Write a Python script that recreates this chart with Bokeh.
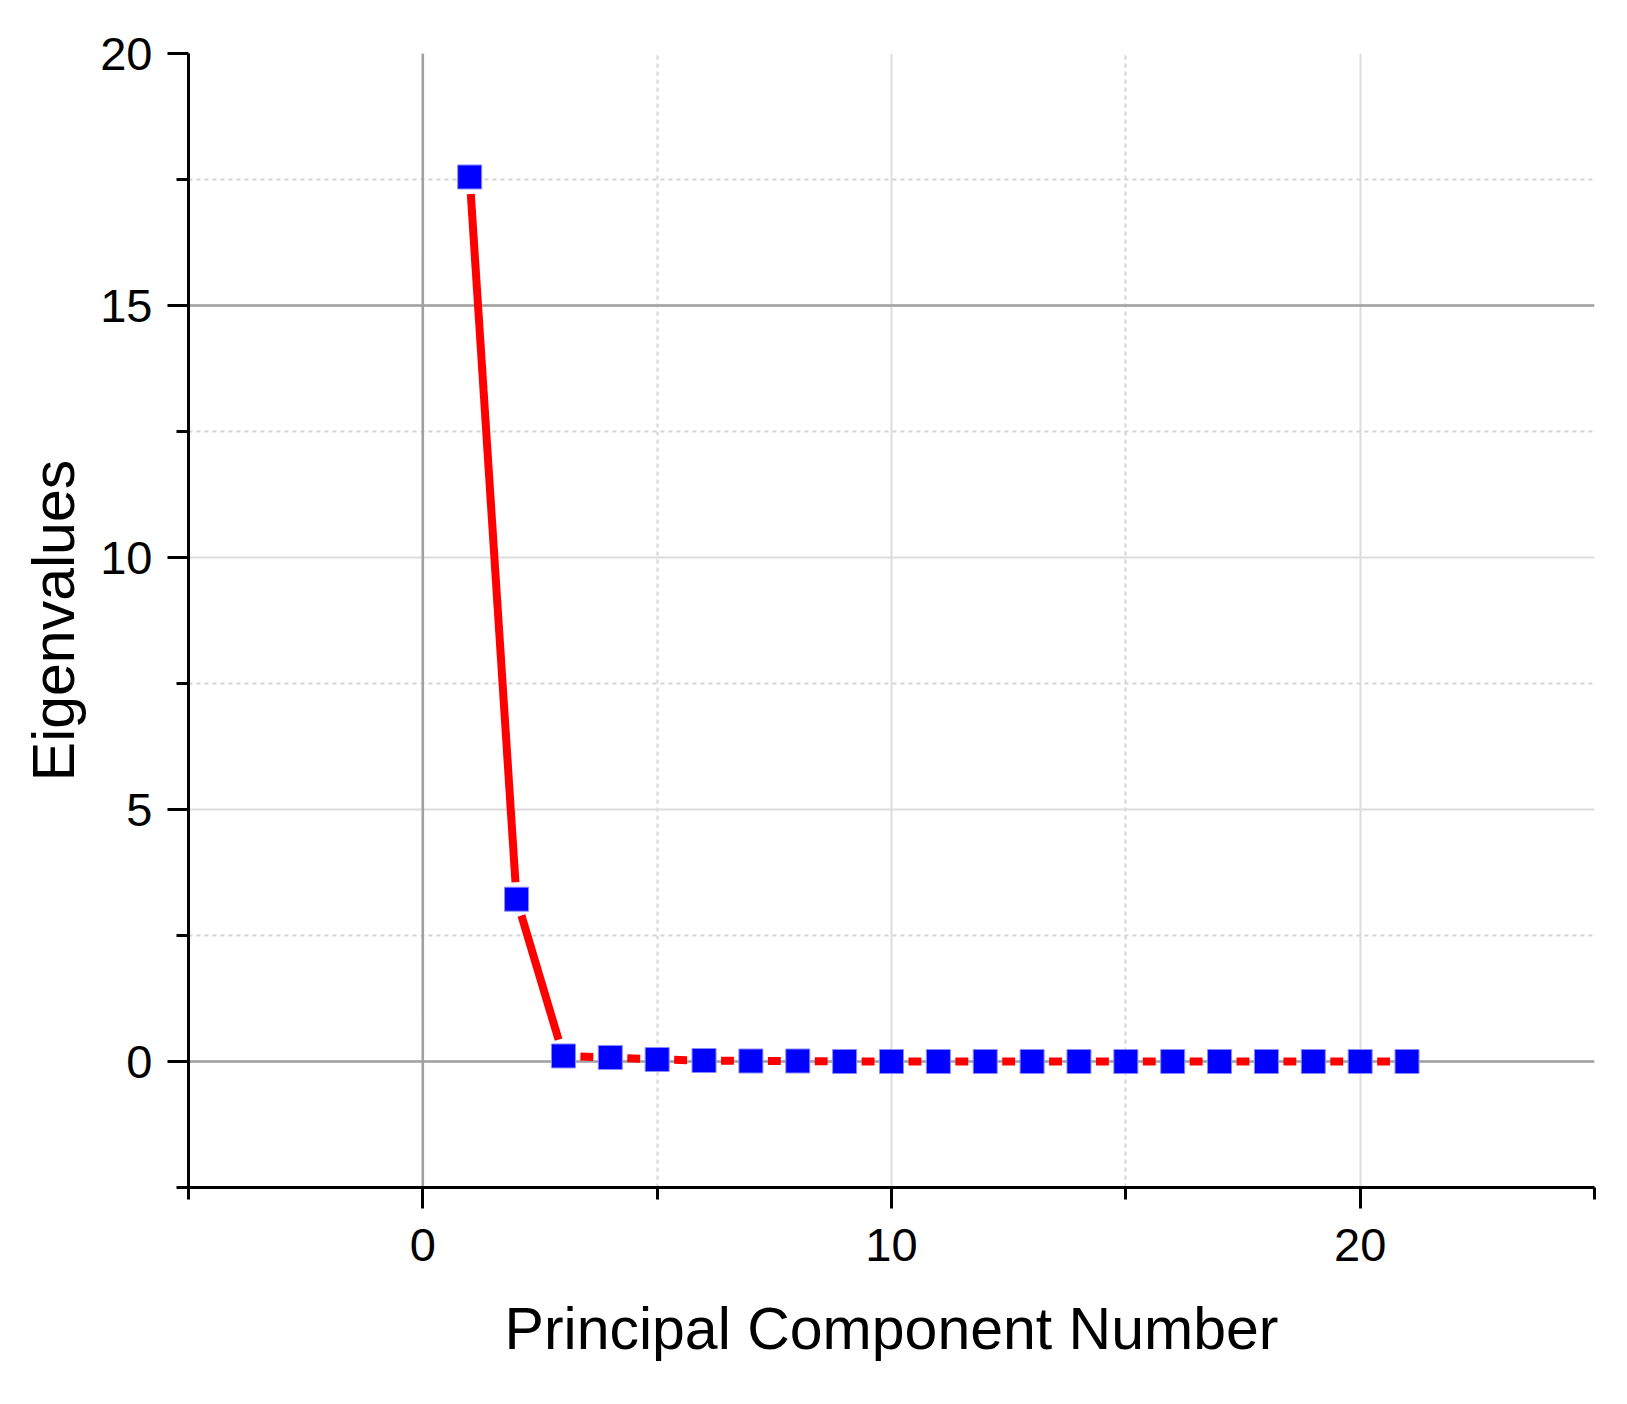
import numpy as np
from bokeh.plotting import figure
from bokeh.models import FixedTicker, Span, Range1d, ColumnDataSource
from bokeh.embed import file_html
from bokeh.resources import INLINE

# ---- data ----
components = list(range(1, 22))
eigenvalues = [17.55, 3.22, 0.11, 0.08, 0.04, 0.02, 0.01, 0.01, 0.0, 0.0, 0.0,
               0.0, 0.0, 0.0, 0.0, 0.0, 0.0, 0.0, 0.0, 0.0, 0.0]
x_major = [0, 10, 20]
x_minor = [-5, 5, 15, 25]
y_major = [0, 5, 10, 15, 20]
y_minor = [-2.5, 2.5, 7.5, 12.5, 17.5]
x_title = "Principal Component Number"
y_title = "Eigenvalues"

X0, X1 = -5, 25
Y0, Y1 = -2.5, 20
W, H = 1611, 1388
BL, BR, BT, BB = 188, 17, 53, 201
FW, FH = W - BL - BR, H - BT - BB
FONT = "Liberation Sans"

p = figure(width=W, height=H, output_backend="svg", toolbar_location=None,
           x_range=Range1d(X0, X1), y_range=Range1d(Y0, Y1),
           min_border_left=BL, min_border_right=BR, min_border_top=BT,
           min_border_bottom=BB)
p.outline_line_color = None
p.background_fill_color = "white"
p.border_fill_color = "white"

# grids
p.xaxis.ticker = FixedTicker(ticks=x_major, minor_ticks=x_minor)
p.yaxis.ticker = FixedTicker(ticks=y_major, minor_ticks=y_minor)
for g in (p.xgrid[0], p.ygrid[0]):
    g.grid_line_color = "#dcdcdc"
    g.grid_line_width = 2
    g.minor_grid_line_color = "#d4d4d4"
    g.minor_grid_line_width = 2
    g.minor_grid_line_dash = "4 4"

# darker reference lines (drawn beneath the data)
for loc, dim in ((0, "height"), (0, "width"), (15, "width")):
    p.add_layout(Span(location=loc, dimension=dim, line_color="#a0a0a0",
                      line_width=2.5, level="underlay"))

# axes styling
for ax in (p.xaxis[0], p.yaxis[0]):
    ax.axis_line_width = 3
    ax.axis_line_color = "black"
    ax.major_tick_line_width = 3
    ax.minor_tick_line_width = 3
    ax.major_tick_line_color = "black"
    ax.minor_tick_line_color = "black"
    ax.major_tick_out = 21
    ax.major_tick_in = 0
    ax.minor_tick_out = 12
    ax.minor_tick_in = 0
    ax.major_label_text_font = FONT
    ax.major_label_text_font_size = "47px"
    ax.major_label_text_color = "black"
    ax.axis_label_text_font = FONT
    ax.axis_label_text_font_size = "59px"
    ax.axis_label_text_font_style = "normal"
    ax.axis_label_text_color = "black"
p.xaxis.axis_label = x_title
p.yaxis.axis_label = y_title
p.xaxis.major_label_standoff = 20
p.xaxis.axis_label_standoff = 32
p.yaxis.major_label_standoff = 15
p.yaxis.axis_label_standoff = 10
p.yaxis.major_label_orientation = "horizontal"

# connecting line with gap to symbol (computed in screen space)
sx = FW / (X1 - X0)
sy = FH / (Y1 - Y0)
gap = 17.0
xs = np.array(components, dtype=float)
ys = np.array(eigenvalues, dtype=float)
x0s, y0s, x1s, y1s = [], [], [], []
for i in range(len(xs) - 1):
    dxp = (xs[i + 1] - xs[i]) * sx
    dyp = (ys[i + 1] - ys[i]) * sy
    L = np.hypot(dxp, dyp)
    ux, uy = dxp / L, dyp / L
    x0s.append(xs[i] + ux * gap / sx)
    y0s.append(ys[i] + uy * gap / sy)
    x1s.append(xs[i + 1] - ux * gap / sx)
    y1s.append(ys[i + 1] - uy * gap / sy)
seg = ColumnDataSource(dict(x0=x0s, y0=y0s, x1=x1s, y1=y1s))
p.segment("x0", "y0", "x1", "y1", source=seg, line_color="#ff0000",
          line_width=8, line_cap="butt")

src = ColumnDataSource(dict(x=components, y=eigenvalues))
p.scatter("x", "y", source=src, marker="square", size=24,
          fill_color="#0000ff", line_color="#8a8aff", line_width=1)

open("out.html", "w").write(file_html(p, INLINE))
